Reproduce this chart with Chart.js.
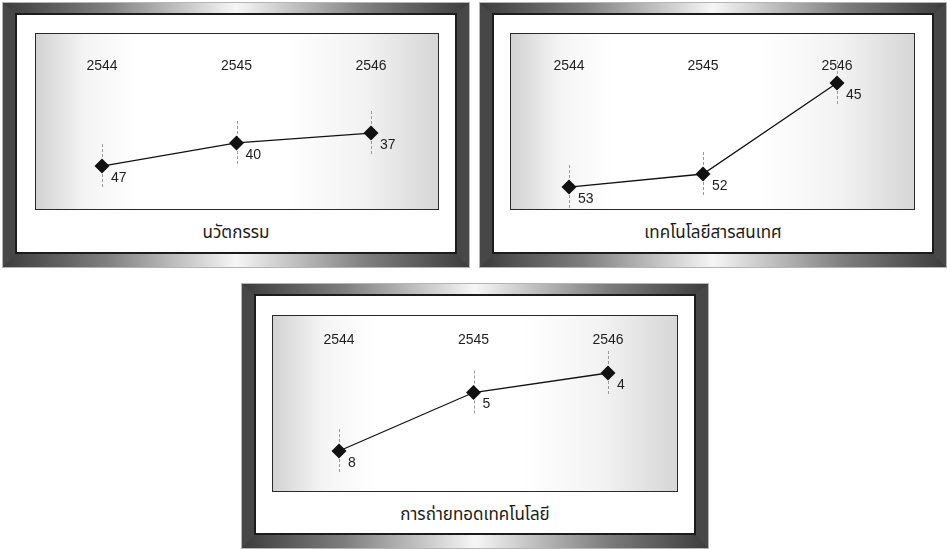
<!DOCTYPE html>
<html>
<head>
<meta charset="utf-8">
<script src="https://cdn.jsdelivr.net/npm/chart.js@4.4.1/dist/chart.umd.min.js"></script>
<style>
  html, body { margin:0; padding:0; background:#fff; width:947px; height:549px; overflow:hidden; }
  .frame { position:absolute; width:466px; height:264px;
    background: linear-gradient(90deg,#3c3c3c 0%,#7e7e7e 22%,#f6f6f6 50%,#7e7e7e 78%,#3c3c3c 100%);
    box-shadow: 0 0 0 1px #b5b5b5; }
  .side { position:absolute; top:0; width:14px; height:100%; background:#474747; }
  .side.l { left:0; clip-path: polygon(0 0, 100% 12px, 100% calc(100% - 14px), 0 100%); }
  .side.r { right:0; clip-path: polygon(0 12px, 100% 0, 100% 100%, 0 calc(100% - 14px)); }
  .mat { position:absolute; left:12px; top:10px; right:12px; bottom:13px; background:#fff; border:2px solid #1c1c1c; box-sizing:border-box; }
  .plot { position:absolute; box-sizing:border-box; border:1px solid #2a2a2a;
    background: linear-gradient(90deg,#d2d2d2 0%,#f4f4f4 12%,#ffffff 25%,#ffffff 62%,#f2f2f2 82%,#d6d6d6 100%); }
  .plot canvas { display:block; }
  .title { position:absolute; width:466px; text-align:center; font-family:"Noto Sans Thai","Noto Sans","Liberation Sans","DejaVu Sans",sans-serif; font-size:17px; color:#1a1a1a; line-height:20px; }
</style>
</head>
<body>
<script>
// ---- data ----
const years = ['2544', '2545', '2546'];
const titles = ['นวัตกรรม', 'เทคโนโลยีสารสนเทศ', 'การถ่ายทอดเทคโนโลยี'];
const innovation = [47, 40, 37];
const infoTech = [53, 52, 45];
const techTransfer = [8, 5, 4];

// ---- layout of each panel (page pixels) ----
const panels = [
  { values: innovation,   title: titles[0], fx: 3,   fy: 3,   px: 35,  py: 33,  pw: 404, ph: 177, padL: 66, padR: 67, axisH: 41, yMin: 19.42, yMax: 60.0,  titleY: 223 },
  { values: infoTech,     title: titles[1], fx: 480, fy: 3,   px: 510, py: 33,  pw: 405, ph: 177, padL: 58, padR: 77, axisH: 41, yMin: 44.385, yMax: 54.69, titleY: 223 },
  { values: techTransfer, title: titles[2], fx: 242, fy: 284, px: 272, py: 315, pw: 406, ph: 177, padL: 66, padR: 69, axisH: 33, yMin: 2.769, yMax: 10.05, titleY: 505 }
];

const markerPlugin = {
  id: 'markerDecor',
  beforeDatasetsDraw(chart) {
    const ctx = chart.ctx;
    const meta = chart.getDatasetMeta(0);
    ctx.save();
    ctx.strokeStyle = '#9a9a9a';
    ctx.lineWidth = 1;
    ctx.setLineDash([3, 2]);
    meta.data.forEach(pt => {
      const x = Math.round(pt.x) + 0.5;
      ctx.beginPath();
      ctx.moveTo(x, pt.y - 22);
      ctx.lineTo(x, pt.y + 22);
      ctx.stroke();
    });
    ctx.restore();
  },
  afterDatasetsDraw(chart) {
    const ctx = chart.ctx;
    const meta = chart.getDatasetMeta(0);
    const data = chart.data.datasets[0].data;
    ctx.save();
    ctx.fillStyle = '#1e1e1e';
    ctx.font = '14px "Liberation Sans", Arial, sans-serif';
    ctx.textAlign = 'left';
    ctx.textBaseline = 'middle';
    meta.data.forEach((pt, i) => {
      ctx.fillText(String(data[i]), pt.x + 9, pt.y + 12);
    });
    ctx.restore();
  }
};

panels.forEach(p => {
  const frame = document.createElement('div');
  frame.className = 'frame';
  frame.style.left = p.fx + 'px';
  frame.style.top = p.fy + 'px';
  frame.innerHTML = '<div class="side l"></div><div class="side r"></div><div class="mat"></div>';
  document.body.appendChild(frame);

  const plot = document.createElement('div');
  plot.className = 'plot';
  plot.style.left = p.px + 'px';
  plot.style.top = p.py + 'px';
  plot.style.width = p.pw + 'px';
  plot.style.height = p.ph + 'px';
  const canvas = document.createElement('canvas');
  canvas.width = p.pw - 2;
  canvas.height = p.ph - 2;
  canvas.style.width = (p.pw - 2) + 'px';
  canvas.style.height = (p.ph - 2) + 'px';
  plot.appendChild(canvas);
  document.body.appendChild(plot);

  const t = document.createElement('div');
  t.className = 'title';
  t.style.left = p.fx + 'px';
  t.style.top = p.titleY + 'px';
  t.textContent = p.title;
  document.body.appendChild(t);

  new Chart(canvas, {
    type: 'line',
    data: {
      labels: years,
      datasets: [{
        data: p.values,
        borderColor: '#111',
        borderWidth: 1.3,
        pointStyle: 'rectRot',
        pointRadius: 7.5,
        pointBackgroundColor: '#111',
        pointBorderColor: '#111',
        pointBorderWidth: 0,
        tension: 0,
        clip: false
      }]
    },
    options: {
      responsive: false,
      animation: false,
      events: [],
      layout: { autoPadding: false, padding: { left: p.padL, right: p.padR, top: 0, bottom: 0 } },
      plugins: { legend: { display: false }, tooltip: { enabled: false } },
      scales: {
        x: {
          position: 'top',
          offset: false,
          grid: { display: false, drawTicks: false },
          border: { display: false },
          ticks: { padding: 0, maxRotation: 0, autoSkip: false, color: '#1e1e1e',
                   font: { size: 14, family: '"Liberation Sans", Arial, sans-serif', lineHeight: 1.2 } },
          afterFit(scale) { scale.height = p.axisH; }
        },
        y: {
          display: false,
          reverse: true,
          min: p.yMin,
          max: p.yMax,
          ticks: { display: false }
        }
      }
    },
    plugins: [markerPlugin]
  });
});
</script>
</body>
</html>
